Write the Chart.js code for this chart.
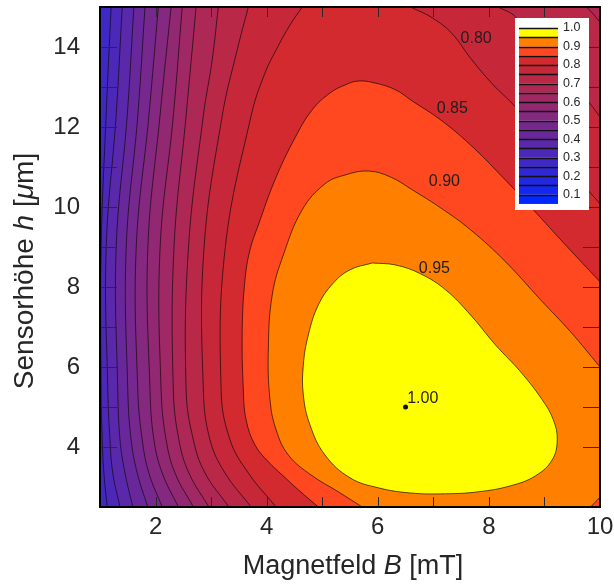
<!DOCTYPE html>
<html>
<head>
<meta charset="utf-8">
<script src="https://cdn.jsdelivr.net/npm/chart.js@4.4.1/dist/chart.umd.min.js"></script>
<style>
    html, body { margin: 0; padding: 0; background: #fff; }
</style>
</head>
<body>
<canvas id="contour-chart" width="614" height="587"></canvas>
<script>
// Contour levels (each filled region is f >= level)
const levels = [0.30, 0.35, 0.40, 0.45, 0.50, 0.55, 0.60, 0.65, 0.70, 0.75, 0.80, 0.85, 0.90, 0.95];

// Colour bands 0.05 .. 0.95 (band = [v, v + 0.05])
const bandLevels = [0.05, 0.10, 0.15, 0.20, 0.25, 0.30, 0.35, 0.40, 0.45, 0.50, 0.55, 0.60, 0.65, 0.70, 0.75, 0.80, 0.85, 0.90, 0.95];
const bandColors = ['#0028ff', '#1428f0', '#2228e2', '#3028d4', '#3e28c6', '#4c28b8', '#5a28aa', '#68289c', '#76288e', '#842880',
    '#922872', '#a02864', '#ae2856', '#ba2848', '#c6283a', '#d22a2e', '#ff4820', '#ff8000', '#ffff00'];
const colorbarLabels = [1.0, 0.9, 0.8, 0.7, 0.6, 0.5, 0.4, 0.3, 0.2, 0.1];

// Axis tick labels
const xTickLabels = [2, 4, 6, 8, 10];
const yTickLabels = [4, 6, 8, 10, 12, 14];

// Contour lines [B (mT), h (um)]
const c30 = [[1.20, 15], [1.11, 12.28], [1.02, 8.93], [1.02, 5.43], [1.04, 4.18], [1.07, 3.35], [1.13, 2.5]];
const c35 = [[1.40, 15], [1.29, 12.28], [1.11, 8.93], [1.14, 5.43], [1.18, 4.18], [1.23, 3.35], [1.36, 2.5]];
const c40 = [[1.61, 15], [1.49, 12.28], [1.29, 8.93], [1.32, 5.43], [1.36, 4.18], [1.45, 3.35], [1.59, 2.5]];
const c45 = [[1.81, 15], [1.68, 12.28], [1.47, 8.93], [1.50, 5.43], [1.56, 4.18], [1.67, 3.35], [1.86, 2.5]];
const c50 = [[2.05, 15], [1.88, 12.28], [1.65, 8.93], [1.68, 5.43], [1.76, 4.18], [1.88, 3.35], [2.12, 2.5]];
const c55 = [[2.28, 15], [2.08, 12.28], [1.86, 8.93], [1.90, 5.43], [1.97, 4.18], [2.12, 3.35], [2.41, 2.5]];
const c60 = [[2.48, 15], [2.32, 12.28], [2.08, 8.93], [2.10, 5.43], [2.19, 4.18], [2.35, 3.35], [2.68, 2.5]];
const c65 = [[2.73, 15], [2.55, 12.28], [2.33, 8.93], [2.32, 5.43], [2.42, 4.18], [2.60, 3.35], [2.96, 2.5]];
const c70 = [[3.13, 15], [3.02, 13.68], [2.86, 12.28], [2.59, 8.93], [2.55, 5.43], [2.68, 4.18], [2.89, 3.35], [3.32, 2.5]];
const c70r = [[9.76, 15], [9.88, 14.82], [10.0, 14.62]];
const c75 = [[3.67, 15], [3.47, 13.93], [3.20, 12.28], [2.87, 8.93], [2.86, 5.43], [2.98, 4.18], [3.25, 3.35], [3.72, 2.5]];
const c75r = [[8.17, 15], [8.48, 14.75], [9.81, 12.6], [10.0, 12.25]];
const c80 = [[4.64, 15], [4.42, 14.55], [4.21, 14.03], [3.97, 13.35], [3.72, 12.28], [3.25, 8.93], [3.18, 5.43], [3.34, 4.18], [3.67, 3.35], [4.17, 2.5]];
const c80r = [[6.59, 15], [6.98, 14.73], [7.34, 14.33], [7.67, 13.72], [8.06, 13.08], [8.48, 12.5], [9.81, 10.38], [10.0, 10.08]];
const c85 = [[4.93, 2.5], [4.57, 2.93], [4.28, 3.3], [4.03, 3.63], [3.79, 4.05], [3.63, 4.68], [3.58, 5.43], [3.56, 6.93], [3.61, 8.18],
    [3.70, 8.93], [3.85, 9.55], [4.15, 10.68], [4.51, 11.73], [4.82, 12.43], [5.14, 12.85], [5.41, 13.05], [5.65, 13.15], [5.95, 13.1],
    [6.32, 12.93], [6.62, 12.65], [7.13, 12.18], [7.67, 11.55], [8.21, 10.8], [8.80, 9.93], [9.38, 9.05], [10.0, 8.13]];
const c90 = [[5.72, 2.5], [5.29, 2.88], [4.80, 3.3], [4.39, 3.8], [4.17, 4.43], [4.06, 5.18], [4.03, 6.43], [4.10, 7.8], [4.30, 8.8],
    [4.64, 9.93], [5.05, 10.58], [5.41, 10.8], [5.83, 10.9], [6.23, 10.75], [6.62, 10.43], [7.13, 9.98], [7.67, 9.43], [8.30, 8.63],
    [8.93, 7.68], [9.47, 6.88], [10.0, 6.0]];
const c90r = [[9.83, 2.5], [9.92, 2.63], [10.0, 2.75]];
const c95 = [[5.90, 8.6], [6.32, 8.55], [6.77, 8.33], [7.22, 7.93], [7.67, 7.3], [8.12, 6.55], [8.57, 5.88], [8.96, 5.18], [9.16, 4.68],
    [9.23, 4.18], [9.14, 3.68], [8.84, 3.28], [8.39, 3.03], [7.81, 2.88], [7.22, 2.83], [6.59, 2.85], [6.01, 2.98], [5.50, 3.23],
    [5.05, 3.8], [4.78, 4.55], [4.66, 5.3], [4.66, 6.05], [4.75, 6.8], [4.93, 7.55], [5.20, 8.1], [5.50, 8.43]];

// Maximum and contour labels
const peakB = [6.5];
const peakH = [5.0];
const labelText = ['0.80', '0.85', '0.90', '0.95', '1.00'];
const labelB = [7.77, 7.34, 7.20, 7.02, 6.53];
const labelH = [14.2, 12.45, 10.63, 8.47, 5.2];

const FONT = "'Liberation Sans', Arial, Helvetica, sans-serif";
const TEXT = '#262626';

// Continue a line a little past the plot edge so closing corners stay outside
function ext(p, q) {
    const dx = p[0] - q[0], dy = p[1] - q[1];
    const d = Math.hypot(dx, dy) || 1;
    return [p[0] + dx / d, p[1] + dy / d];
}
function open(piece) {
    const n = piece.length;
    return [ext(piece[0], piece[1]), ...piece, ext(piece[n - 1], piece[n - 2])];
}
const rev = a => a.slice().reverse();
const BR = [11.5, 0], TR = [11.5, 17.5];

const regions = [
    [...open(c30), BR, TR],
    [...open(c35), BR, TR],
    [...open(c40), BR, TR],
    [...open(c45), BR, TR],
    [...open(c50), BR, TR],
    [...open(c55), BR, TR],
    [...open(c60), BR, TR],
    [...open(c65), BR, TR],
    [...open(c70), BR, ...open(rev(c70r))],
    [...open(c75), BR, ...open(rev(c75r))],
    [...open(c80), BR, ...open(rev(c80r))],
    [...open(c85), BR],
    [...open(c90), ...open(rev(c90r))],
    [...c95, c95[0]]
];

const datasets = regions.map((pts, i) => ({
    data: pts.map(p => ({ x: p[0], y: p[1] })),
    showLine: true,
    fill: 'shape',
    backgroundColor: bandColors[Math.round(levels[i] / 0.05) - 1],
    borderColor: 'rgba(15,8,8,0.85)',
    borderWidth: 0.8,
    tension: 0.4,
    capBezierPoints: false,
    pointRadius: 0,
    order: 100 - i
}));
datasets.push({
    data: peakB.map((b, i) => ({ x: b, y: peakH[i] })),
    pointRadius: 2.5,
    pointBackgroundColor: '#111',
    pointBorderWidth: 0,
    order: 0
});

// Plot area background (lowest band)
const areaBg = {
    id: 'areaBg',
    beforeDatasetsDraw(chart) {
        const { ctx, chartArea: a } = chart;
        ctx.save();
        ctx.fillStyle = bandColors[4];
        ctx.fillRect(a.left, a.top, a.width, a.height);
        ctx.restore();
    }
};

// Inward ticks + frame
const frame = {
    id: 'frame',
    afterDatasetsDraw(chart) {
        const { ctx, chartArea: a, scales } = chart;
        ctx.save();
        ctx.strokeStyle = '#2a2a2a';
        ctx.lineWidth = 1;
        ctx.beginPath();
        scales.x.ticks.forEach(t => {
            if (!Number.isInteger(t.value) || t.value <= 1 || t.value >= 10) return;
            const x = Math.round(scales.x.getPixelForValue(t.value)) + 0.5;
            ctx.moveTo(x, a.bottom); ctx.lineTo(x, a.bottom - 10);
            ctx.moveTo(x, a.top); ctx.lineTo(x, a.top + 10);
        });
        scales.y.ticks.forEach(t => {
            if (!Number.isInteger(t.value) || t.value >= 15) return;
            const y = Math.round(scales.y.getPixelForValue(t.value)) + 0.5;
            ctx.moveTo(a.left, y); ctx.lineTo(a.left + 17, y);
            ctx.moveTo(a.right, y); ctx.lineTo(a.right - 17, y);
        });
        ctx.stroke();
        ctx.strokeStyle = '#000';
        ctx.lineWidth = 2;
        ctx.strokeRect(a.left, a.top, a.width, a.height);

        // contour labels
        ctx.fillStyle = '#1e1e1e';
        ctx.font = `16px ${FONT}`;
        ctx.textBaseline = 'middle';
        labelText.forEach((txt, i) => {
            ctx.textAlign = i === labelText.length - 1 ? 'left' : 'center';
            ctx.fillText(txt, scales.x.getPixelForValue(labelB[i]), scales.y.getPixelForValue(labelH[i]));
        });
        ctx.restore();
    }
};

// Colour bar legend
const colorbar = {
    id: 'colorbar',
    afterDatasetsDraw(chart) {
        const { ctx, chartArea: a } = chart;
        const boxL = a.right - 85, boxT = a.top + 11;
        const sx = boxL + 4, sw = 39, top = boxT + 10, step = 9.26;
        const yOf = v => top + (1 - v) / 0.05 * step;
        ctx.save();
        ctx.fillStyle = '#fff';
        ctx.fillRect(boxL, boxT, 74, 192);
        bandLevels.forEach((v, i) => {
            ctx.fillStyle = bandColors[i];
            ctx.fillRect(sx, yOf(v + 0.05), sw, yOf(v) - yOf(v + 0.05));
        });
        ctx.strokeStyle = '#111';
        ctx.lineWidth = 1.5;
        ctx.beginPath();
        bandLevels.forEach(v => {
            const y = Math.round(yOf(v + 0.05)) + 0.5;
            ctx.moveTo(sx, y); ctx.lineTo(sx + sw, y);
        });
        ctx.stroke();
        ctx.fillStyle = TEXT;
        ctx.font = `12.5px ${FONT}`;
        ctx.textAlign = 'left';
        ctx.textBaseline = 'middle';
        colorbarLabels.forEach(v => ctx.fillText(v.toFixed(1), sx + sw + 5, yOf(v)));
        ctx.restore();
    }
};

// Axis titles with italic symbols
function drawParts(ctx, parts, size) {
    let w = 0;
    parts.forEach(p => { ctx.font = `${p[1] ? 'italic ' : ''}${size}px ${FONT}`; w += ctx.measureText(p[0]).width; });
    let x = -w / 2;
    parts.forEach(p => {
        ctx.font = `${p[1] ? 'italic ' : ''}${size}px ${FONT}`;
        ctx.fillText(p[0], x, 0);
        x += ctx.measureText(p[0]).width;
    });
}
const titles = {
    id: 'titles',
    afterDraw(chart) {
        const { ctx, chartArea: a } = chart;
        ctx.save();
        ctx.fillStyle = TEXT;
        ctx.textAlign = 'left';
        ctx.textBaseline = 'alphabetic';
        ctx.translate((a.left + a.right) / 2 + 3, 574);
        drawParts(ctx, [['Magnetfeld ', false], ['B', true], [' [mT]', false]], 27);
        ctx.restore();
        ctx.save();
        ctx.fillStyle = TEXT;
        ctx.textAlign = 'left';
        ctx.textBaseline = 'alphabetic';
        ctx.translate(33, 271);
        ctx.rotate(-Math.PI / 2);
        drawParts(ctx, [['Sensorhöhe ', false], ['h', true], [' [', false], ['μ', true], ['m]', false]], 28);
        ctx.restore();
    }
};

window.addEventListener('load', () => {
    const canvas = document.getElementById('contour-chart');

    new Chart(canvas, {
        type: 'scatter',
        data: { datasets },
        options: {
            responsive: false,
            animation: false,
            devicePixelRatio: 1,
            layout: { padding: { top: 7, right: 14, bottom: 0, left: 0 } },
            plugins: { legend: { display: false }, tooltip: { enabled: false } },
            scales: {
                x: {
                    type: 'linear', min: 1, max: 10,
                    border: { display: false },
                    grid: { display: false, drawTicks: false },
                    ticks: {
                        stepSize: 1, autoSkip: false, maxRotation: 0, padding: 6, color: TEXT,
                        font: { family: FONT, size: 24 },
                        callback: v => xTickLabels.includes(v) ? String(v) : ''
                    },
                    afterFit: s => { s.height = 80; s.paddingLeft = 0; s.paddingRight = 0; }
                },
                y: {
                    type: 'linear', min: 2.5, max: 15,
                    border: { display: false },
                    grid: { display: false, drawTicks: false },
                    ticks: {
                        stepSize: 1, autoSkip: false, padding: 20, color: TEXT,
                        font: { family: FONT, size: 24 },
                        callback: v => yTickLabels.includes(v) ? String(v) : ''
                    },
                    afterFit: s => { s.width = 100; s.paddingTop = 0; s.paddingBottom = 0; }
                }
            }
        },
        plugins: [areaBg, frame, colorbar, titles]
    });
});
</script>
</body>
</html>
